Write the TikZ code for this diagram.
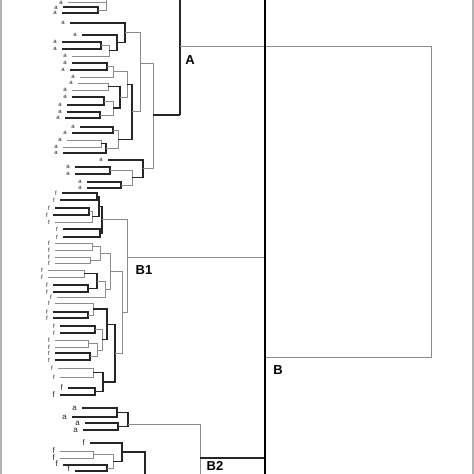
\documentclass[tikz,border=0pt]{standalone}
\usepackage{fontspec}
\setmainfont{Liberation Sans}
\newcommand\Jn[6]{\draw[#1] (#3,#4) -- (#2,#4) -- (#2,#6) -- (#5,#6);}
\tikzset{
  dk/.style={draw=black!85,line width=1.1pt},
  lt/.style={draw=black!45,line width=1pt},
  lab/.style={font=\fontsize{13}{13}\selectfont\bfseries,inner sep=0pt},
  tiny/.style={font=\fontsize{6}{6}\selectfont,inner sep=0pt,text=black!85,anchor=east},
  small/.style={font=\fontsize{8}{8}\selectfont,inner sep=0pt,text=black!85,anchor=east},
  frame/.style={draw=black!30,line width=1.5pt}
}
\begin{document}
\begin{tikzpicture}[x=1pt,y=-1pt]
\useasboundingbox (0,0) rectangle (474,474);
\clip (0,0) rectangle (474,474);
\fill[white] (0,0) rectangle (474,474);
\draw[frame] (1,0) -- (1,474);
\draw[frame] (472.8,0) -- (472.8,474);
% ---------- cluster A ----------
\Jn{dk}{98}{63}{7}{62}{13}
\Jn{lt}{106}{68}{2}{98}{10}
\draw[lt] (106,2) -- (106,-5);
\Jn{dk}{101}{62}{42}{62}{49}
\Jn{lt}{109}{101}{45.5}{72}{56}
\Jn{dk}{117}{82}{35}{109}{50.75}
\Jn{dk}{125}{70}{23}{117}{42.9}
\Jn{dk}{107}{72}{63}{70}{70}
\Jn{lt}{113}{107}{66.5}{80}{77}
\Jn{lt}{108}{78}{83}{72}{90}
\Jn{dk}{104}{72}{97}{67}{105}
\Jn{dk}{100}{67}{112}{65}{118}
\Jn{lt}{113}{104}{101}{100}{115}
\Jn{dk}{120}{108}{86.5}{113}{108}
\Jn{lt}{127}{113}{71.75}{120}{97.25}
\Jn{dk}{113}{80}{127}{72}{133}
\Jn{lt}{101}{67}{140}{63}{147}
\Jn{dk}{106}{101}{143.5}{63}{153}
\Jn{lt}{118}{113}{130}{106}{148.25}
\Jn{dk}{132}{127}{84.5}{118}{139.1}
\Jn{lt}{140}{125}{32.9}{132}{111.8}
\Jn{dk}{110}{75}{167}{75}{174}
\Jn{dk}{121}{87}{182}{87}{188}
\Jn{lt}{132}{110}{170.5}{121}{185}
\Jn{dk}{143}{108}{160}{132}{177.75}
\Jn{lt}{153}{140}{63}{143}{168.9}
\draw[dk] (153,115) -- (180,115);
\draw[dk] (180,-5) -- (180,115);
\draw[lt] (180,46) -- (431,46) -- (431,357) -- (265,357);
% ---------- cluster B1 ----------
\Jn{dk}{97}{62}{193}{60}{200}
\Jn{dk}{89}{55}{208}{53}{215}
\Jn{lt}{92}{89}{211.5}{55}{222}
\Jn{dk}{99}{97}{196.5}{92}{216.75}
\Jn{dk}{100}{63}{229}{63}{237}
\Jn{dk}{102}{99}{206.6}{100}{233}
\Jn{lt}{92}{55}{243}{55}{250}
\Jn{lt}{90}{55}{257}{55}{263}
\Jn{lt}{100}{92}{246.5}{90}{260}
\Jn{lt}{84}{48}{270}{48}{277}
\Jn{dk}{88}{53}{285}{53}{292}
\Jn{dk}{97}{84}{273.5}{88}{288.5}
\Jn{lt}{105}{97}{281}{57}{297}
\Jn{lt}{110}{100}{253.25}{105}{289}
\Jn{dk}{88}{53}{312}{53}{318}
\Jn{lt}{93}{55}{303}{88}{315}
\Jn{dk}{95}{60}{326}{60}{333}
\Jn{lt}{88}{55}{340}{55}{347}
\Jn{dk}{90}{55}{353}{55}{360}
\Jn{lt}{97}{88}{343.5}{90}{356.5}
\Jn{lt}{102}{95}{329.5}{97}{350}
\Jn{dk}{107}{93}{309}{102}{339.75}
\Jn{lt}{93}{58}{368}{60}{377}
\Jn{dk}{95}{68}{388}{60}{395}
\Jn{dk}{103}{93}{372.5}{95}{391.5}
\Jn{dk}{115}{107}{324.4}{103}{382}
\Jn{lt}{122}{110}{271}{115}{353.2}
\Jn{lt}{127}{102}{219.8}{122}{312}
\draw[lt] (127,257) -- (265,257);
% ---------- cluster B2 ----------
\Jn{dk}{117}{82}{408}{72}{417}
\Jn{dk}{118}{85}{423}{83}{430}
\Jn{dk}{128}{117}{412.5}{118}{426.5}
\draw[lt] (128,424) -- (200,424) -- (200,480);
\Jn{lt}{93}{60}{451}{60}{458}
\Jn{dk}{107}{63}{465}{75}{471}
\Jn{lt}{113}{93}{454.5}{107}{468}
\Jn{dk}{122}{90}{443}{113}{461.5}
\draw[dk] (122,452) -- (145,452) -- (145,480);
\draw[dk] (200,458) -- (265,458);
% ---------- cut line ----------
\draw[black,line width=2.6pt] (265,-5) -- (265,480);
% ---------- leaf labels ----------
\foreach \x/\y in {68/3,63/8,62/13,70/23,82/35,62/42,62/49,72/56,72/63,70/70,80/77,78/83,72/90,72/97,67/105,67/112,65/118,80/127,72/133,67/140,63/147,63/153,108/160,75/167,75/174,87/182,87/188}
  \node[tiny] (la\y) at (\x-5,\y) {a};
\foreach \x/\y in {62/193,60/200,55/208,53/215,55/222,63/229,63/237,55/243,55/250,55/257,55/263,48/270,48/277,53/285,53/292,57/297,55/303,53/312,53/318,60/326,60/333,55/340,55/347,55/353,55/360,58/368,60/377}
  \node[tiny] (lf\y) at (\x-5,\y) {f};
\foreach \x/\y in {68/388,60/395,90/443,60/451,60/458,63/464,75/469}
  \node[small] (lg\y) at (\x-5,\y) {f};
\foreach \x/\y in {82/408,72/417,85/423,83/430}
  \node[small] (lh\y) at (\x-5,\y) {a};
% ---------- cluster labels ----------
\node[lab] (labA) at (190,60) {A};
\node[lab] (labB) at (278,370) {B};
\node[lab] (labB1) at (144,270) {B1};
\node[lab] (labB2) at (215,466) {B2};
\end{tikzpicture}
\end{document}
